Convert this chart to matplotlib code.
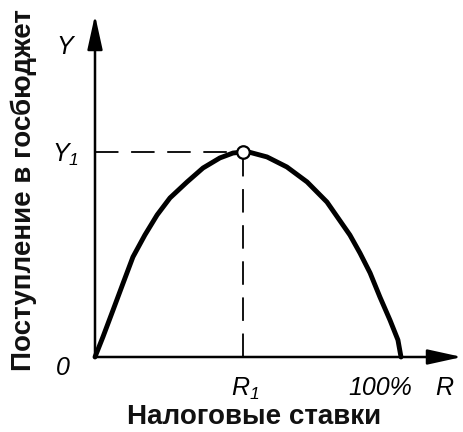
import matplotlib
matplotlib.use("Agg")
import matplotlib.pyplot as plt

# Data (tax rate R in %, revenue Y relative to Y1)
rates = [0, 2.6, 5.9, 9.2, 12.4, 16.3, 20.3, 24.5, 30.1, 35.3, 40.8, 45.1, 48.4,
         50.7, 56.2, 62.7, 69.3, 75.8, 83.3, 86.6, 89.9, 93.1, 96.4, 99.0, 100]
revenue = [0, 0.098, 0.229, 0.361, 0.488, 0.595, 0.693, 0.776, 0.854, 0.922, 0.971, 0.995, 1.0,
           0.998, 0.976, 0.927, 0.854, 0.756, 0.595, 0.507, 0.410, 0.293, 0.180, 0.083, 0]
R1 = 48.4
Y1 = 1.0

W, H = 464, 432
fig = plt.figure(figsize=(W / 100, H / 100), dpi=100)
ox, oy = 95, 357          # origin in pixels
tx, ty = 462, 15          # arrow tips in pixels
ax = fig.add_axes([ox / W, (H - oy) / H, (tx - ox) / W, (oy - ty) / H])
xmax = (tx - ox) / 3.06
ymax = (oy - ty) / 205
ax.set_xlim(0, xmax)
ax.set_ylim(0, ymax)
ax.axis("off")

# axes with arrows
arrow = dict(arrowstyle="-|>,head_length=1.5,head_width=0.33", color="black",
             lw=1.8, shrinkA=0, shrinkB=0, mutation_scale=14)
ax.annotate("", xy=(1, 0), xytext=(0, 0), xycoords="axes fraction",
            arrowprops=arrow, annotation_clip=False)
ax.annotate("", xy=(0, 1), xytext=(0, 0), xycoords="axes fraction",
            arrowprops=arrow, annotation_clip=False)

# dashed guides
ax.plot([0, R1], [Y1, Y1], color="black", lw=1.3, dashes=(13, 7), clip_on=False)
ax.plot([R1, R1], [0, Y1], color="black", lw=1.3, dashes=(13, 7), clip_on=False)

# curve
ax.plot(rates, revenue, color="black", lw=3.5, solid_capstyle="round",
        solid_joinstyle="round", clip_on=False)
ax.plot([R1], [Y1], marker="o", ms=9, mfc="white", mec="black", mew=1.6,
        clip_on=False, zorder=5)

fam = ["Liberation Sans", "DejaVu Sans"]
lab = dict(family=fam, style="italic", fontsize=18, color="black")
fig.text(65 / W, 1 - 47 / H, "Y", ha="center", va="center", **lab)
fig.text(66 / W, 1 - 155 / H, "Y$_{\\mathregular{1}}$", ha="center", va="center", **lab)
fig.text(63 / W, 1 - 368 / H, "0", ha="center", va="center", **lab)
fig.text(245 / W, 1 - 389 / H, "R$_{\\mathregular{1}}$", ha="center", va="center", **lab)
fig.text(380 / W, 1 - 388 / H, "100%", ha="center", va="center", **lab)
fig.text(444 / W, 1 - 388 / H, "R", ha="center", va="center", **lab)

fig.text(254 / W, 1 - 417 / H, "Налоговые ставки", ha="center", va="center",
         family=fam, fontsize=20, weight="bold", color="#111111")
fig.text(24 / W, 1 - 190 / H, "Поступление в госбюджет", ha="center", va="center",
         rotation=90, family=fam, fontsize=20, weight="bold", color="#111111")

fig.savefig("out.png", dpi=100)
